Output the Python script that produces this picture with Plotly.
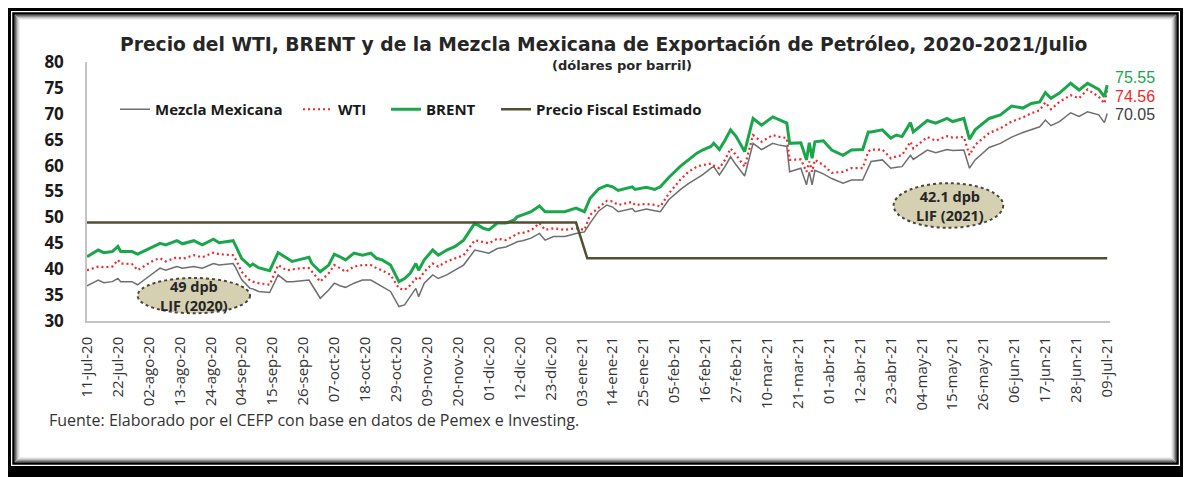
import plotly.graph_objects as go

# ---------------- data ----------------
fechas = [
    "2020-07-11", "2020-07-15", "2020-07-17", "2020-07-20", "2020-07-22", "2020-07-23", "2020-07-27", "2020-07-29",
    "2020-08-01", "2020-08-04", "2020-08-06", "2020-08-08", "2020-08-12", "2020-08-14", "2020-08-18", "2020-08-21",
    "2020-08-25", "2020-08-27", "2020-09-01", "2020-09-02", "2020-09-04", "2020-09-07", "2020-09-08", "2020-09-10",
    "2020-09-14", "2020-09-17", "2020-09-20", "2020-09-22", "2020-09-25", "2020-09-28", "2020-09-29", "2020-10-02",
    "2020-10-05", "2020-10-07", "2020-10-09", "2020-10-11", "2020-10-14", "2020-10-17", "2020-10-20", "2020-10-22",
    "2020-10-24", "2020-10-27", "2020-10-30", "2020-11-01", "2020-11-03", "2020-11-05", "2020-11-06", "2020-11-08",
    "2020-11-11", "2020-11-13", "2020-11-16", "2020-11-19", "2020-11-22", "2020-11-26", "2020-11-29", "2020-12-01",
    "2020-12-04", "2020-12-07", "2020-12-10", "2020-12-11", "2020-12-13", "2020-12-16", "2020-12-19", "2020-12-21",
    "2020-12-24", "2020-12-28", "2021-01-01", "2021-01-04", "2021-01-06", "2021-01-09", "2021-01-12", "2021-01-14",
    "2021-01-16", "2021-01-21", "2021-01-22", "2021-01-26", "2021-01-29", "2021-01-31", "2021-02-03", "2021-02-07",
    "2021-02-10", "2021-02-13", "2021-02-15", "2021-02-18", "2021-02-19", "2021-02-21", "2021-02-23", "2021-02-25",
    "2021-02-27", "2021-03-02", "2021-03-05", "2021-03-08", "2021-03-12", "2021-03-14", "2021-03-17", "2021-03-18",
    "2021-03-22", "2021-03-24", "2021-03-25", "2021-03-26", "2021-03-27", "2021-03-30", "2021-04-02", "2021-04-06",
    "2021-04-09", "2021-04-13", "2021-04-15", "2021-04-16", "2021-04-20", "2021-04-23", "2021-04-25", "2021-04-27",
    "2021-04-30", "2021-05-01", "2021-05-06", "2021-05-09", "2021-05-13", "2021-05-15", "2021-05-19", "2021-05-21",
    "2021-05-23", "2021-05-28", "2021-06-01", "2021-06-05", "2021-06-09", "2021-06-12", "2021-06-15", "2021-06-17",
    "2021-06-19", "2021-06-22", "2021-06-26", "2021-06-29", "2021-07-02", "2021-07-06", "2021-07-08", "2021-07-09",
]

brent = [
    42.4, 43.7, 43.2, 43.4, 44.4, 43.4, 43.4, 42.9,
    43.7, 44.5, 45.0, 44.7, 45.5, 44.9, 45.5, 44.7,
    45.8, 45.1, 45.5, 44.4, 42.1, 40.6, 41.0, 40.3,
    39.7, 43.2, 42.1, 41.5, 41.9, 42.3, 41.1, 39.5,
    40.8, 42.9, 42.4, 41.8, 43.1, 42.7, 43.1, 42.1,
    41.8, 40.8, 37.6, 38.2, 39.2, 41.1, 39.8, 41.8,
    43.7, 42.7, 43.7, 44.4, 45.6, 48.9, 47.9, 47.6,
    48.9, 48.9, 49.5, 50.1, 50.5, 51.1, 52.2, 51.1,
    51.1, 51.1, 51.8, 51.1, 53.7, 55.5, 56.2, 55.9,
    55.2, 55.9, 55.4, 55.8, 55.4, 55.9, 57.7, 59.8,
    61.1, 62.4, 63.0, 63.7, 64.3, 63.1, 64.9, 66.9,
    65.6, 62.7, 69.1, 67.8, 69.4, 68.9, 68.2, 64.3,
    64.4, 61.1, 64.4, 61.4, 64.6, 64.8, 63.0, 62.0,
    63.0, 63.1, 66.5, 66.5, 66.9, 65.3, 65.9, 65.6,
    68.3, 66.5, 68.7, 68.2, 69.1, 68.5, 69.1, 65.1,
    66.9, 69.1, 69.8, 71.5, 71.1, 72.0, 72.3, 74.1,
    73.0, 74.0, 75.9, 74.6, 75.9, 74.7, 73.3, 75.55,
]

wti = [
    39.8, 40.5, 40.4, 40.5, 41.8, 41.1, 41.0, 39.8,
    40.8, 41.8, 42.1, 41.5, 42.3, 42.0, 42.7, 42.3,
    43.2, 42.9, 42.7, 41.8, 39.5, 37.8, 37.6, 37.3,
    37.0, 40.8, 39.8, 40.0, 40.2, 40.2, 39.5, 37.6,
    39.2, 40.8, 40.2, 39.5, 40.5, 40.8, 40.8, 40.2,
    39.8, 38.9, 36.3, 36.0, 36.9, 38.2, 37.9, 39.5,
    41.1, 40.5, 41.5, 42.1, 42.7, 45.6, 45.3, 45.0,
    45.9, 45.6, 46.5, 46.9, 47.0, 47.5, 48.9, 47.6,
    47.9, 47.6, 47.9, 47.6, 50.5, 51.8, 53.2, 53.1,
    52.4, 53.0, 52.4, 52.6, 52.4, 52.1, 54.6, 57.2,
    58.8, 59.8, 60.1, 60.4, 60.0, 59.5, 61.1, 63.3,
    62.0, 59.8, 65.9, 64.6, 65.9, 65.6, 65.3, 61.1,
    61.2, 58.8, 60.8, 58.8, 61.1, 60.1, 58.6, 58.8,
    59.5, 59.5, 62.7, 63.1, 63.1, 61.4, 61.8, 62.0,
    64.6, 63.3, 65.5, 64.8, 65.7, 65.4, 65.5, 62.0,
    64.0, 66.3, 67.2, 68.5, 69.3, 70.1, 70.7, 72.2,
    70.9, 72.3, 73.6, 73.0, 74.7, 73.3, 72.0, 74.56,
]

mezcla = [
    36.8, 37.9, 37.4, 37.6, 38.2, 37.6, 37.6, 37.0,
    38.2, 39.5, 40.2, 39.8, 40.5, 40.2, 40.5, 40.2,
    41.1, 40.8, 41.1, 40.2, 38.0, 36.3, 36.2, 35.7,
    35.5, 38.9, 37.6, 37.6, 37.8, 37.9, 37.0, 34.4,
    36.0, 37.3, 36.8, 36.5, 37.3, 37.9, 37.9, 37.3,
    36.6, 35.7, 32.8, 33.1, 34.7, 36.3, 34.7, 37.3,
    38.9, 38.2, 38.9, 39.8, 40.8, 43.7, 43.4, 43.1,
    44.0, 44.3, 45.0, 45.3, 45.5, 46.0, 46.9, 45.6,
    46.3, 46.3, 46.9, 47.2, 48.9, 51.2, 52.4, 52.0,
    51.1, 51.7, 51.1, 51.6, 51.3, 51.1, 53.4, 55.3,
    56.5, 57.5, 58.2, 59.5, 59.8, 58.2, 59.8, 61.7,
    60.1, 58.0, 64.3, 63.1, 64.3, 64.0, 63.7, 58.8,
    59.5, 56.3, 58.8, 56.3, 59.1, 58.4, 57.5, 56.6,
    57.2, 57.2, 59.8, 60.8, 61.1, 59.5, 59.7, 59.8,
    62.0, 61.2, 63.0, 62.5, 63.1, 62.9, 63.0, 59.5,
    61.1, 63.5, 64.3, 65.5, 66.4, 66.9, 67.5, 68.8,
    67.7, 68.5, 70.2, 69.5, 70.4, 69.8, 68.3, 70.05,
]

fiscal_fechas = ["2020-07-11", "2021-01-01", "2021-01-05", "2021-07-09"]
fiscal_valores = [49.0, 49.0, 42.1, 42.1]

tick_labels = [
    "11-jul-20", "22-jul-20", "02-ago-20", "13-ago-20", "24-ago-20", "04-sep-20", "15-sep-20",
    "26-sep-20", "07-oct-20", "18-oct-20", "29-oct-20", "09-nov-20", "20-nov-20", "01-dic-20",
    "12-dic-20", "23-dic-20", "03-ene-21", "14-ene-21", "25-ene-21", "05-feb-21", "16-feb-21",
    "27-feb-21", "10-mar-21", "21-mar-21", "01-abr-21", "12-abr-21", "23-abr-21", "04-may-21",
    "15-may-21", "26-may-21", "06-jun-21", "17-jun-21", "28-jun-21", "09-jul-21",
]
meses = {"ene": 1, "feb": 2, "mar": 3, "abr": 4, "may": 5, "jun": 6,
         "jul": 7, "ago": 8, "sep": 9, "oct": 10, "nov": 11, "dic": 12}
tick_vals = []
for t in tick_labels:
    d, m, y = t.split("-")
    tick_vals.append(f"20{y}-{meses[m]:02d}-{d}")

y_ticks = [30, 35, 40, 45, 50, 55, 60, 65, 70, 75, 80]

# ---------------- layout constants ----------------
# the page body has an 8px margin, so the figure is drawn 8px in from the window corner
OFF = 8
W, H = 1191 - OFF, 477 - OFF
ML, MT = 87 - OFF, 62 - OFF
MR = W - (1110 - OFF)
MB = H - (321 - OFF)
PW, PH = W - ML - MR, H - MT - MB


def px(x):
    """window pixel x -> paper x"""
    return (x - OFF - ML) / PW


def py(y):
    """window pixel y -> paper y"""
    return (H - MB - (y - OFF)) / PH


C_BRENT = "#1aa64b"
C_WTI = "#ee2a2a"
C_MEZ = "#6e6e6e"
C_FIS = "#544e35"
FONT = "Open Sans"
TFONT = "DejaVu Sans"

fig = go.Figure()
fig.add_trace(go.Scatter(x=fechas, y=mezcla, name="Mezcla Mexicana", mode="lines", legend="legend",
                         line=dict(color=C_MEZ, width=1.5)))
fig.add_trace(go.Scatter(x=fechas, y=wti, name="WTI", mode="lines", legend="legend2",
                         line=dict(color=C_WTI, width=2.2, dash="2px,3px")))
fig.add_trace(go.Scatter(x=fechas, y=brent, name="BRENT", mode="lines", legend="legend3",
                         line=dict(color=C_BRENT, width=3)))
fig.add_trace(go.Scatter(x=fiscal_fechas, y=fiscal_valores, name="Precio Fiscal Estimado", mode="lines",
                         legend="legend4", line=dict(color=C_FIS, width=2.5)))

shapes = []


def frame(inset, color, width):
    shapes.append(dict(type="rect", xref="paper", yref="paper",
                       x0=px(inset), x1=px(1191 - inset), y0=py(477 - inset), y1=py(inset),
                       line=dict(color=color, width=width), layer="above"))


frame(4, "black", 14)
frame(13.5, "black", 2.5)
frame(15.5, "#6a6a6a", 1)
frame(16.5, "#959595", 1)
frame(17.5, "#bdbdbd", 1)
frame(18.5, "#dcdcdc", 1)
frame(19.5, "#efefef", 1)

# ellipses
shapes.append(dict(type="circle", xref="x", yref="y", x0="2020-07-29", x1="2020-09-07", y0=31.5, y1=38.3,
                   fillcolor="#d6d0b2", line=dict(color="#4b4737", width=2, dash="dot"), layer="above"))
shapes.append(dict(type="circle", xref="x", yref="y", x0="2021-04-24", x1="2021-06-02", y0=48.0, y1=56.6,
                   fillcolor="#d6d0b2", line=dict(color="#4b4737", width=2, dash="dot"), layer="above"))

annotations = [
    dict(text="<b>Precio del WTI, BRENT y de la Mezcla Mexicana de Exportación de Petróleo, 2020-2021/Julio</b>",
         xref="paper", yref="paper", x=px(604), y=py(45), xanchor="center", yanchor="middle", showarrow=False,
         font=dict(family=TFONT, size=18.7, color="#262626")),
    dict(text="<b>(dólares por barril)</b>", xref="paper", yref="paper", x=px(622), y=py(66),
         xanchor="center", yanchor="middle", showarrow=False, font=dict(family=TFONT, size=13, color="#262626")),
    dict(text="Fuente: Elaborado por el CEFP con base en datos de Pemex e Investing.",
         xref="paper", yref="paper", x=px(47), y=py(420), xanchor="left", yanchor="middle", showarrow=False,
         font=dict(family=FONT, size=16, color="#333333")),
    dict(text="<b>49 dpb</b><br><b>LIF (2020)</b>", xref="x", yref="y", x="2020-08-18", y=34.75,
         showarrow=False, font=dict(family=FONT, size=14.5, color="#262626")),
    dict(text="<b>42.1 dpb</b><br><b>LIF (2021)</b>", xref="x", yref="y", x="2021-05-14", y=52.2,
         showarrow=False, font=dict(family=FONT, size=14.5, color="#262626")),
    dict(text=f"{brent[-1]:.2f}", xref="x", yref="y", x=fechas[-1], y=brent[-1], xanchor="left", yanchor="middle",
         xshift=6, yshift=8, showarrow=False, font=dict(family="Liberation Sans", size=16, color=C_BRENT)),
    dict(text=f"{wti[-1]:.2f}", xref="x", yref="y", x=fechas[-1], y=wti[-1], xanchor="left", yanchor="middle",
         xshift=6, yshift=-6, showarrow=False, font=dict(family="Liberation Sans", size=16, color=C_WTI)),
    dict(text=f"{mezcla[-1]:.2f}", xref="x", yref="y", x=fechas[-1], y=mezcla[-1], xanchor="left", yanchor="middle",
         xshift=6, yshift=-1, showarrow=False, font=dict(family="Liberation Sans", size=16, color="#404040")),
]

legend_style = dict(orientation="h", xanchor="left", yanchor="top", y=py(93),
                    font=dict(family=FONT, size=15, color="#1a1a1a", weight="bold"),
                    bgcolor="rgba(0,0,0,0)", itemwidth=30)

fig.update_layout(
    width=W, height=H,
    margin=dict(l=ML, r=MR, t=MT, b=MB),
    paper_bgcolor="white", plot_bgcolor="white",
    showlegend=True,
    legend=dict(x=px(115), **legend_style),
    legend2=dict(x=px(298), **legend_style),
    legend3=dict(x=px(386), **legend_style),
    legend4=dict(x=px(496), **legend_style),
    shapes=shapes, annotations=annotations,
)
fig.update_xaxes(type="date", range=["2020-07-11", "2021-07-10"], tickmode="array", tickvals=tick_vals,
                 ticktext=tick_labels, tickangle=-90, showgrid=False, showline=True, linecolor="#c4c4c4",
                 linewidth=1.5, ticks="", tickfont=dict(family=FONT, size=15, color="#333333"), zeroline=False,
                 ticklabelstandoff=8)
fig.update_yaxes(range=[30, 80], tickmode="array", tickvals=y_ticks,
                 showgrid=False, showline=True, linecolor="#c4c4c4", linewidth=1.5, ticks="",
                 tickfont=dict(family=FONT, size=17, color="#1a1a1a", weight="bold"), zeroline=False,
                 ticklabelstandoff=18)

fig.write_html("out.html")
